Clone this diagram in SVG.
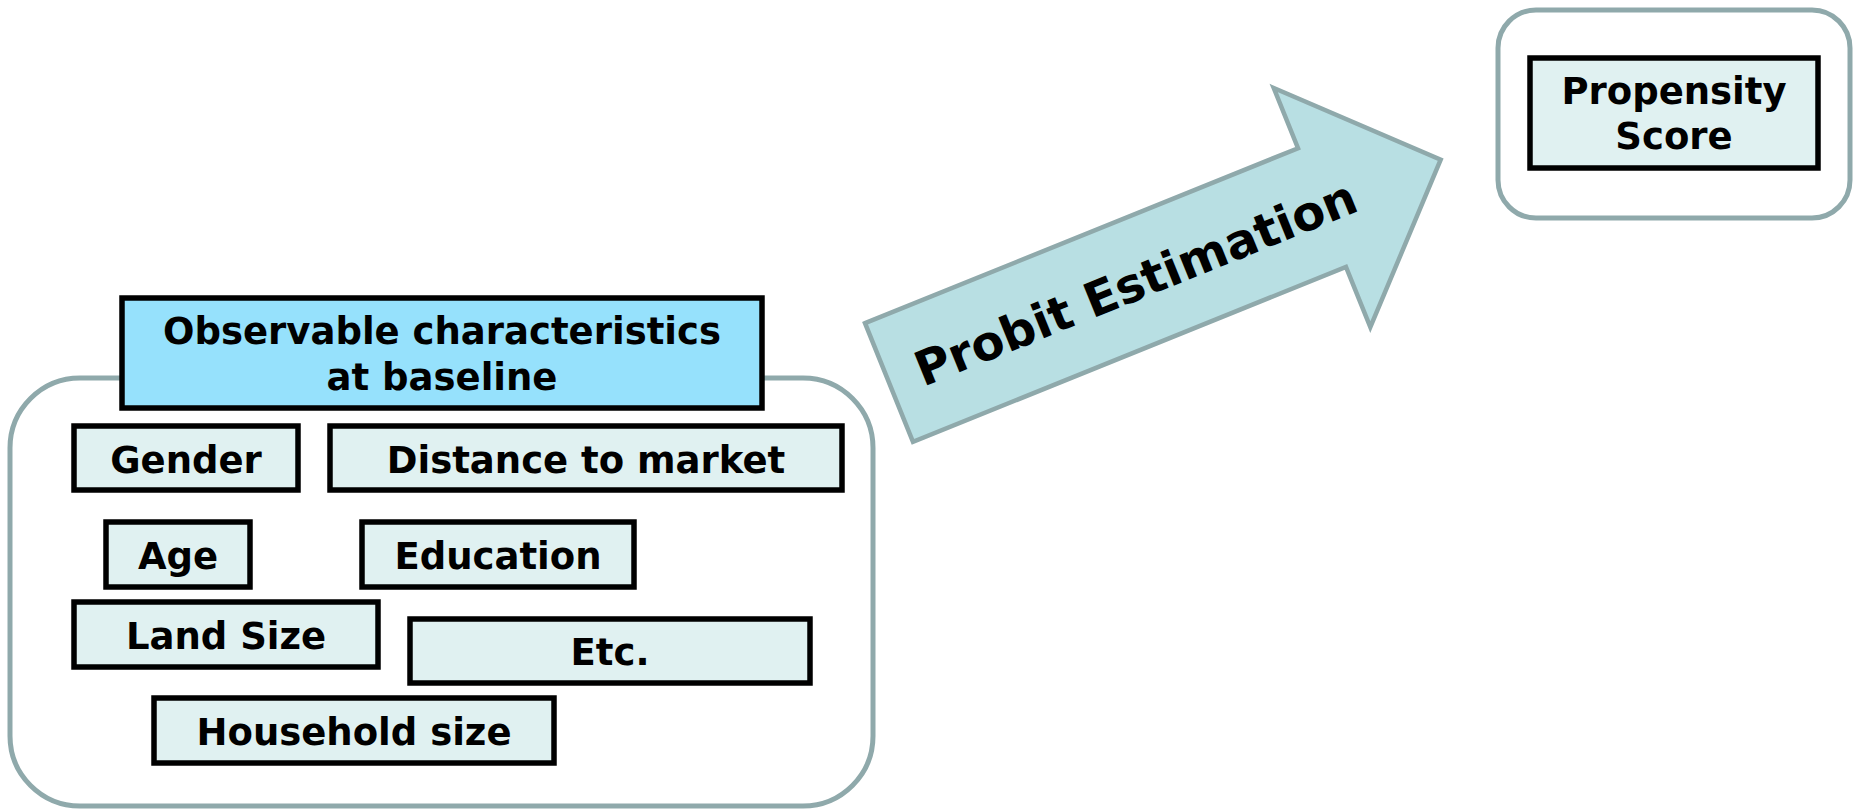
<svg xmlns="http://www.w3.org/2000/svg" width="1856" height="810" viewBox="0 0 1856 810">
  <style>
    .frame { fill: #ffffff; stroke: #8fa9ab; stroke-width: 5; }
    .item { fill: #e0f1f1; stroke: #000000; stroke-width: 5.5; }
    .title { fill: #96e1fc; stroke: #000000; stroke-width: 5.5; }
    .arrow { fill: #b8dfe3; stroke: #8fa9ab; stroke-width: 4.5; stroke-linejoin: miter; }
    text { font-family: "DejaVu Sans", Verdana, "Liberation Sans", sans-serif; font-weight: bold; fill: #000000; text-anchor: middle; }
    .lbl { font-size: 37px; }
    .big { font-size: 48px; }
  </style>

  <!-- container for the baseline characteristics -->
  <g id="characteristics-group">
    <rect class="frame" x="10" y="378" width="863" height="428" rx="70" ry="70"/>
  </g>

  <g id="observable">
    <rect class="title" x="122" y="298" width="640" height="110"/>
    <text class="lbl" x="442" y="344">Observable characteristics</text>
    <text class="lbl" x="442" y="390">at baseline</text>
  </g>

  <g id="gender">
    <rect class="item" x="74" y="426" width="224" height="64"/>
    <text class="lbl" x="186" y="472.5">Gender</text>
  </g>

  <g id="distance">
    <rect class="item" x="330" y="426" width="512" height="64"/>
    <text class="lbl" x="586" y="472.5">Distance to market</text>
  </g>

  <g id="age">
    <rect class="item" x="106" y="522" width="144" height="65"/>
    <text class="lbl" x="178" y="569">Age</text>
  </g>

  <g id="education">
    <rect class="item" x="362" y="522" width="272" height="65"/>
    <text class="lbl" x="498" y="569">Education</text>
  </g>

  <g id="land-size">
    <rect class="item" x="74" y="602" width="304" height="65"/>
    <text class="lbl" x="226" y="649">Land Size</text>
  </g>

  <g id="etc">
    <rect class="item" x="410" y="619" width="400" height="64"/>
    <text class="lbl" x="610" y="665">Etc.</text>
  </g>

  <g id="household-size">
    <rect class="item" x="154" y="698" width="400" height="65"/>
    <text class="lbl" x="354" y="745">Household size</text>
  </g>

  <!-- block arrow carrying the estimation step -->
  <g id="connectors">
    <g id="probit-arrow" transform="translate(889,382.5) rotate(-22)">
      <polygon class="arrow" points="0,-64 467,-64 467,-129 595,0 467,129 467,64 0,64"/>
      <text class="big" x="266" y="17">Probit Estimation</text>
    </g>
  </g>

  <!-- result -->
  <g id="propensity-group">
    <rect class="frame" x="1498" y="10" width="352" height="208" rx="38" ry="38"/>
  </g>

  <g id="propensity-score">
    <rect class="item" x="1530" y="58" width="288" height="110"/>
    <text class="lbl" x="1674" y="104">Propensity</text>
    <text class="lbl" x="1674" y="148.5">Score</text>
  </g>
</svg>
